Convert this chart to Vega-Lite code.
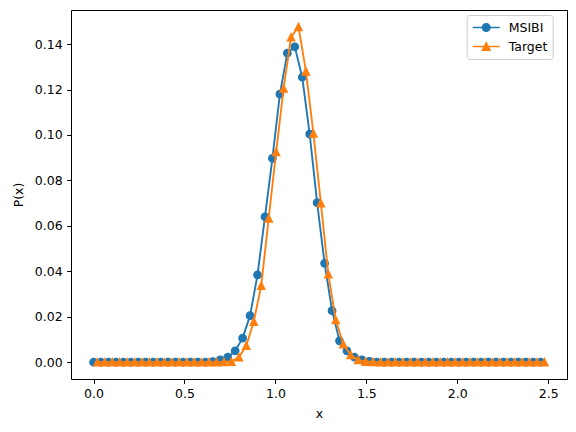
{
  "$schema": "https://vega.github.io/schema/vega-lite/v6.json",
  "autosize": "none",
  "width": 496,
  "height": 369,
  "padding": {"left": 71, "top": 10, "right": 9, "bottom": 53},
  "background": "white",
  "config": {
    "view": {"stroke": "black", "strokeWidth": 1},
    "axis": {
      "domain": false, "grid": false, "tickColor": "black", "tickSize": 4.4, "tickWidth": 1,
      "labelFont": "DejaVu Sans", "labelFontSize": 12.5, "labelColor": "black", "labelPadding": 4.4,
      "titleFont": "DejaVu Sans", "titleFontSize": 12.5, "titleFontWeight": "normal", "titleColor": "black"
    }
  },
  "datasets": {
    "msibi": [
      {"x": 0, "y": 0}, {"x": 0.041, "y": 0}, {"x": 0.082, "y": 0}, {"x": 0.123, "y": 0}, {"x": 0.1639, "y": 0},
      {"x": 0.2049, "y": 0}, {"x": 0.2459, "y": 0}, {"x": 0.2869, "y": 0}, {"x": 0.3279, "y": 0}, {"x": 0.3689, "y": 0},
      {"x": 0.4098, "y": 0}, {"x": 0.4508, "y": 0}, {"x": 0.4918, "y": 0}, {"x": 0.5328, "y": 0}, {"x": 0.5738, "y": 0},
      {"x": 0.6148, "y": 0}, {"x": 0.6557, "y": 0.0003}, {"x": 0.6967, "y": 0.001}, {"x": 0.7377, "y": 0.0022}, {"x": 0.7787, "y": 0.005},
      {"x": 0.8197, "y": 0.0106}, {"x": 0.8607, "y": 0.0205}, {"x": 0.9016, "y": 0.0384}, {"x": 0.9426, "y": 0.064}, {"x": 0.9836, "y": 0.0897},
      {"x": 1.0246, "y": 0.118}, {"x": 1.0656, "y": 0.136}, {"x": 1.1066, "y": 0.1388}, {"x": 1.1475, "y": 0.1254}, {"x": 1.1885, "y": 0.1004},
      {"x": 1.2295, "y": 0.0702}, {"x": 1.2705, "y": 0.0435}, {"x": 1.3115, "y": 0.0227}, {"x": 1.3525, "y": 0.0094}, {"x": 1.3934, "y": 0.005},
      {"x": 1.4344, "y": 0.0022}, {"x": 1.4754, "y": 0.001}, {"x": 1.5164, "y": 0.0004}, {"x": 1.5574, "y": 0.0001}, {"x": 1.5984, "y": 0},
      {"x": 1.6393, "y": 0}, {"x": 1.6803, "y": 0}, {"x": 1.7213, "y": 0}, {"x": 1.7623, "y": 0}, {"x": 1.8033, "y": 0},
      {"x": 1.8443, "y": 0}, {"x": 1.8852, "y": 0}, {"x": 1.9262, "y": 0}, {"x": 1.9672, "y": 0}, {"x": 2.0082, "y": 0},
      {"x": 2.0492, "y": 0}, {"x": 2.0902, "y": 0}, {"x": 2.1311, "y": 0}, {"x": 2.1721, "y": 0}, {"x": 2.2131, "y": 0},
      {"x": 2.2541, "y": 0}, {"x": 2.2951, "y": 0}, {"x": 2.3361, "y": 0}, {"x": 2.377, "y": 0}, {"x": 2.418, "y": 0},
      {"x": 2.459, "y": 0}
    ],
    "target": [
      {"x": 0.0205, "y": 0}, {"x": 0.0615, "y": 0}, {"x": 0.1025, "y": 0}, {"x": 0.1434, "y": 0}, {"x": 0.1844, "y": 0},
      {"x": 0.2254, "y": 0}, {"x": 0.2664, "y": 0}, {"x": 0.3074, "y": 0}, {"x": 0.3484, "y": 0}, {"x": 0.3893, "y": 0},
      {"x": 0.4303, "y": 0}, {"x": 0.4713, "y": 0}, {"x": 0.5123, "y": 0}, {"x": 0.5533, "y": 0}, {"x": 0.5943, "y": 0},
      {"x": 0.6352, "y": 0}, {"x": 0.6762, "y": 0}, {"x": 0.7172, "y": 0.0001}, {"x": 0.7582, "y": 0.0003}, {"x": 0.7992, "y": 0.0022},
      {"x": 0.8402, "y": 0.0073}, {"x": 0.8811, "y": 0.0179}, {"x": 0.9221, "y": 0.0337}, {"x": 0.9631, "y": 0.0633}, {"x": 1.0041, "y": 0.0926},
      {"x": 1.0451, "y": 0.1205}, {"x": 1.0861, "y": 0.143}, {"x": 1.127, "y": 0.1476}, {"x": 1.168, "y": 0.128}, {"x": 1.209, "y": 0.1007},
      {"x": 1.25, "y": 0.07}, {"x": 1.291, "y": 0.0388}, {"x": 1.332, "y": 0.0186}, {"x": 1.373, "y": 0.008}, {"x": 1.4139, "y": 0.0032},
      {"x": 1.4549, "y": 0.001}, {"x": 1.4959, "y": 0.0003}, {"x": 1.5369, "y": 0.0001}, {"x": 1.5779, "y": 0}, {"x": 1.6189, "y": 0},
      {"x": 1.6598, "y": 0}, {"x": 1.7008, "y": 0}, {"x": 1.7418, "y": 0}, {"x": 1.7828, "y": 0}, {"x": 1.8238, "y": 0},
      {"x": 1.8648, "y": 0}, {"x": 1.9057, "y": 0}, {"x": 1.9467, "y": 0}, {"x": 1.9877, "y": 0}, {"x": 2.0287, "y": 0},
      {"x": 2.0697, "y": 0}, {"x": 2.1107, "y": 0}, {"x": 2.1516, "y": 0}, {"x": 2.1926, "y": 0}, {"x": 2.2336, "y": 0},
      {"x": 2.2746, "y": 0}, {"x": 2.3156, "y": 0}, {"x": 2.3566, "y": 0}, {"x": 2.3975, "y": 0}, {"x": 2.4385, "y": 0},
      {"x": 2.4795, "y": 0}
    ]
  },
  "encoding": {
    "x": {
      "field": "x", "type": "quantitative", "title": "x",
      "scale": {"domain": [-0.124, 2.6035], "nice": false, "zero": false},
      "axis": {"values": [0, 0.5, 1, 1.5, 2, 2.5], "format": ".1f", "titlePadding": 7}
    },
    "y": {
      "field": "y", "type": "quantitative", "title": "P(x)",
      "scale": {"domain": [-0.00738, 0.15498], "nice": false, "zero": false},
      "axis": {"values": [0, 0.02, 0.04, 0.06, 0.08, 0.1, 0.12, 0.14], "format": ".2f", "titlePadding": 9}
    }
  },
  "layer": [
    {
      "data": {"name": "msibi"},
      "mark": {"type": "line", "strokeWidth": 1.875, "strokeJoin": "round"},
      "encoding": {
        "color": {
          "datum": "MSIBI", "type": "nominal",
          "scale": {"domain": ["MSIBI", "Target"], "range": ["#1f77b4", "#ff7f0e"]},
          "legend": {
            "title": null, "orient": "none", "legendX": 395.7, "legendY": 5,
            "padding": 5, "fillColor": "rgba(255,255,255,0.8)", "strokeColor": "#cccccc", "cornerRadius": 3,
            "labelFont": "DejaVu Sans", "labelFontSize": 12.5, "labelColor": "black",
            "symbolSize": 182, "symbolOffset": 7, "labelOffset": 15, "rowPadding": 4,
            "encode": {
              "symbols": {
                "update": {
                  "shape": {"signal": "datum.value === 'MSIBI' ? 'M-2,0H2M-0.56,0A0.56,0.56 0 1,1 0.56,0A0.56,0.56 0 1,1 -0.56,0Z' : 'M-2,0H2M0,-0.56L-0.56,0.56L0.56,0.56Z'"},
                  "fill": {"signal": "datum.value === 'MSIBI' ? '#1f77b4' : '#ff7f0e'"},
                  "stroke": {"signal": "datum.value === 'MSIBI' ? '#1f77b4' : '#ff7f0e'"}
                }
              }
            }
          }
        }
      }
    },
    {
      "data": {"name": "msibi"},
      "mark": {"type": "point", "shape": "circle", "filled": true, "size": 56, "strokeWidth": 1.25, "stroke": "#1f77b4", "opacity": 1},
      "encoding": {
        "color": {"datum": "MSIBI", "type": "nominal", "legend": null}
      }
    },
    {
      "data": {"name": "target"},
      "mark": {"type": "line", "strokeWidth": 1.875, "strokeJoin": "round"},
      "encoding": {
        "color": {"datum": "Target", "type": "nominal", "legend": null}
      }
    },
    {
      "data": {"name": "target"},
      "mark": {"type": "point", "shape": "M0,-1L-1,1L1,1Z", "filled": true, "size": 56, "strokeWidth": 1.25, "stroke": "#ff7f0e", "opacity": 1},
      "encoding": {
        "color": {"datum": "Target", "type": "nominal", "legend": null}
      }
    }
  ]
}
